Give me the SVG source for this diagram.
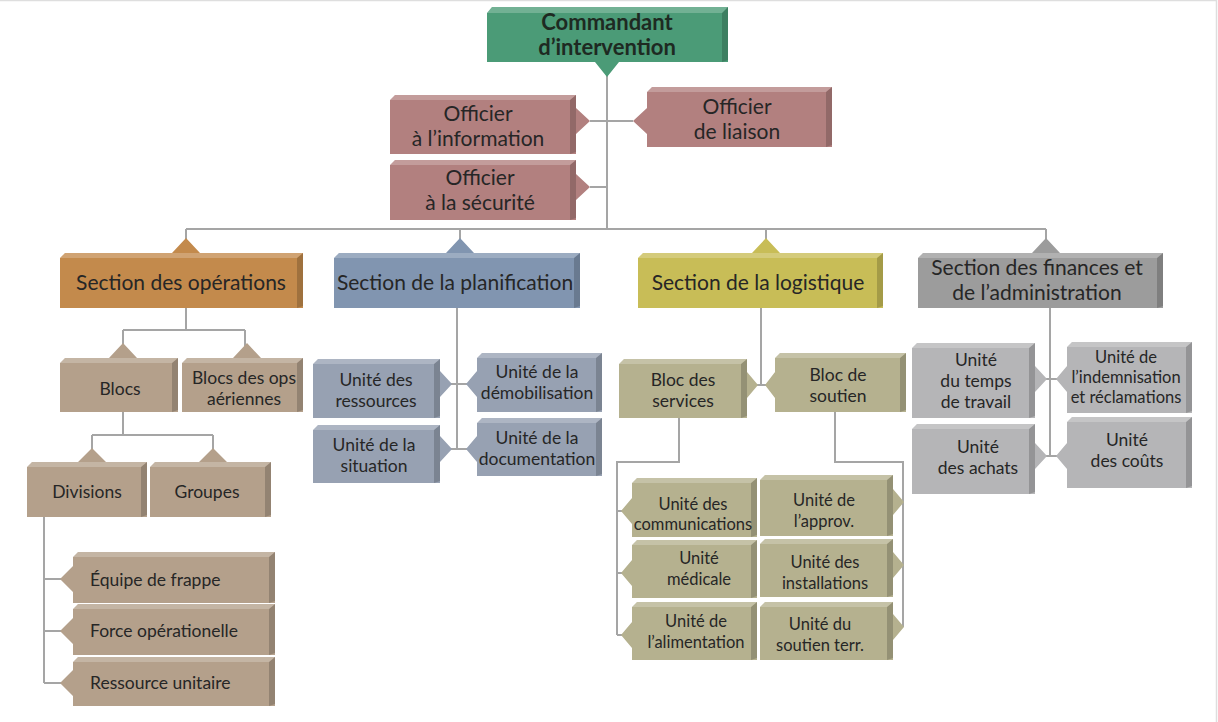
<svg xmlns="http://www.w3.org/2000/svg" width="1218" height="722" viewBox="0 0 1218 722">
<style>
text{font-family:Lato,"Open Sans","Liberation Sans",sans-serif;fill:#262626;text-anchor:middle}
.b{font-weight:bold;font-size:22px;fill:#1e2a22}
.l{font-size:21px}
.m{font-size:17.5px}
.s{font-size:16.5px}
.st{text-anchor:start}
.hl{fill:#ffffff;opacity:.22}
.sh{fill:#000000;opacity:.18}
.green{fill:#4b9b77}
.rose{fill:#b2807f}
.orange{fill:#c38a4c}
.blue{fill:#8195b0}
.yellow{fill:#c8bd57}
.gray{fill:#9c9c9c}
.taupe{fill:#b4a08b}
.bgray{fill:#97a1b2}
.olive{fill:#b5b18f}
.lgray{fill:#b5b5b7}
.conn path{fill:none;stroke:#a5a5a5;stroke-width:2}
</style>
<rect width="1218" height="722" fill="#ffffff"/>
<path d="M0,0.5 H1216.5 V722" fill="none" stroke="#dedede" stroke-width="1.5"/>

<g id="connectors" class="conn">
<path d="M607,62 V229"/>
<path d="M186,229 H1046"/>
<path d="M590,121 H633"/>
<path d="M590,187 H607"/>
<path d="M186,229 V242 M460,229 V242 M766,229 V242 M1046,229 V242"/>
<path d="M186,308 V330 M123,330 H245 M123,330 V346 M245,330 V346"/>
<path d="M123,412 V435 M92,435 H213 M92,435 V450 M213,435 V450"/>
<path d="M44,517 V683 M44,579 H62 M44,631 H62 M44,683 H62"/>
<path d="M457,308 V449 M450,384 H468 M450,449 H468"/>
<path d="M761,308 V385 M755,385 H768"/>
<path d="M679,418 V462 H617 V635 M617,511 H623 M617,573 H623 M617,635 H623"/>
<path d="M835,412 V462 H903 V627 M895,502 H903 M895,565 H903 M895,627 H903"/>
<path d="M1050,308 V456 M1045,379 H1058 M1045,456 H1058"/>
</g>

<g id="commandant">
<path class="green" d="M487,13 L492,7 H728 V62 H487 Z M595,62 L607,77 L619,62 Z"/>
<path class="sh" d="M722,13 L728,7 V60 L722,62 Z"/>
<path class="hl" d="M487,13 L492,7 H728 L722,13 Z"/>
<text class="b" x="607" y="30">Commandant</text>
<text class="b" x="607" y="55">d’intervention</text>
</g>

<g id="officier-information">
<path class="rose" d="M390,100 L395,95 H576 V154 H390 Z M576,108 L590,121 L576,134 Z"/>
<path class="sh" d="M570,100 L576,95 V152 L570,154 Z"/>
<path class="hl" d="M390,100 L395,95 H576 L570,100 Z"/>
<text class="l" x="478" y="121">Officier</text>
<text class="l" x="478" y="146">à l’information</text>
</g>

<g id="officier-liaison">
<path class="rose" d="M647,92 L652,87 H832 V147 H647 Z M647,108 L633,121 L647,134 Z"/>
<path class="sh" d="M826,92 L832,87 V145 L826,147 Z"/>
<path class="hl" d="M647,92 L652,87 H832 L826,92 Z"/>
<text class="l" x="737" y="114">Officier</text>
<text class="l" x="737" y="139">de liaison</text>
</g>

<g id="officier-securite">
<path class="rose" d="M390,165 L395,160 H576 V220 H390 Z M576,174 L590,187 L576,200 Z"/>
<path class="sh" d="M570,165 L576,160 V218 L570,220 Z"/>
<path class="hl" d="M390,165 L395,160 H576 L570,165 Z"/>
<text class="l" x="480" y="185">Officier</text>
<text class="l" x="480" y="210">à la sécurité</text>
</g>

<g id="section-operations">
<path class="orange" d="M60,258 L65,253 H303 V308 H60 Z M172,253 L186,238 L200,253 Z"/>
<path class="sh" d="M297,258 L303,253 V306 L297,308 Z"/>
<path class="hl" d="M60,258 L65,253 H303 L297,258 Z"/>
<text class="l" x="181" y="290">Section des opérations</text>
</g>

<g id="section-planification">
<path class="blue" d="M334,258 L339,253 H580 V308 H334 Z M446,253 L460,238 L474,253 Z"/>
<path class="sh" d="M574,258 L580,253 V306 L574,308 Z"/>
<path class="hl" d="M334,258 L339,253 H580 L574,258 Z"/>
<text class="l" x="455" y="290">Section de la planification</text>
</g>

<g id="section-logistique">
<path class="yellow" d="M638,258 L643,253 H883 V308 H638 Z M752,253 L766,238 L780,253 Z"/>
<path class="sh" d="M877,258 L883,253 V306 L877,308 Z"/>
<path class="hl" d="M638,258 L643,253 H883 L877,258 Z"/>
<text class="l" x="758" y="290">Section de la logistique</text>
</g>

<g id="section-finances">
<path class="gray" d="M918,258 L923,253 H1163 V308 H918 Z M1032,253 L1046,238 L1060,253 Z"/>
<path class="sh" d="M1157,258 L1163,253 V306 L1157,308 Z"/>
<path class="hl" d="M918,258 L923,253 H1163 L1157,258 Z"/>
<text class="l" x="1037" y="275">Section des finances et</text>
<text class="l" x="1037" y="300">de l’administration</text>
</g>

<g id="blocs">
<path class="taupe" d="M60,363 L65,358 H178 V412 H60 Z M109,358 L123,343 L137,358 Z"/>
<path class="sh" d="M172,363 L178,358 V410 L172,412 Z"/>
<path class="hl" d="M60,363 L65,358 H178 L172,363 Z"/>
<text class="m" x="120" y="395">Blocs</text>
</g>

<g id="blocs-ops-aeriennes">
<path class="taupe" d="M182,363 L187,358 H303 V412 H182 Z M233,358 L247,343 L261,358 Z"/>
<path class="sh" d="M297,363 L303,358 V410 L297,412 Z"/>
<path class="hl" d="M182,363 L187,358 H303 L297,363 Z"/>
<text class="m" x="244" y="384">Blocs des ops</text>
<text class="m" x="244" y="405">aériennes</text>
</g>

<g id="divisions">
<path class="taupe" d="M27,467 L32,462 H147 V517 H27 Z M78,462 L92,448 L106,462 Z"/>
<path class="sh" d="M141,467 L147,462 V515 L141,517 Z"/>
<path class="hl" d="M27,467 L32,462 H147 L141,467 Z"/>
<text class="m" x="87" y="498">Divisions</text>
</g>

<g id="groupes">
<path class="taupe" d="M150,467 L155,462 H271 V517 H150 Z M199,462 L213,448 L227,462 Z"/>
<path class="sh" d="M265,467 L271,462 V515 L265,517 Z"/>
<path class="hl" d="M150,467 L155,462 H271 L265,467 Z"/>
<text class="m" x="207" y="498">Groupes</text>
</g>

<g id="equipe-frappe">
<path class="taupe" d="M73,557 L78,552 H275 V603 H73 Z M73,566 L60,579 L73,592 Z"/>
<path class="sh" d="M269,557 L275,552 V601 L269,603 Z"/>
<path class="hl" d="M73,557 L78,552 H275 L269,557 Z"/>
<text class="m st" x="90" y="586">Équipe de frappe</text>
</g>

<g id="force-operationelle">
<path class="taupe" d="M73,609 L78,604 H275 V655 H73 Z M73,618 L60,631 L73,644 Z"/>
<path class="sh" d="M269,609 L275,604 V653 L269,655 Z"/>
<path class="hl" d="M73,609 L78,604 H275 L269,609 Z"/>
<text class="m st" x="90" y="637">Force opérationelle</text>
</g>

<g id="ressource-unitaire">
<path class="taupe" d="M73,662 L78,657 H275 V706 H73 Z M73,670 L60,683 L73,696 Z"/>
<path class="sh" d="M269,662 L275,657 V704 L269,706 Z"/>
<path class="hl" d="M73,662 L78,657 H275 L269,662 Z"/>
<text class="m st" x="90" y="689">Ressource unitaire</text>
</g>

<g id="unite-ressources">
<path class="bgray" d="M313,364 L318,359 H440 V418 H313 Z M440,371 L452,384 L440,397 Z"/>
<path class="sh" d="M434,364 L440,359 V416 L434,418 Z"/>
<path class="hl" d="M313,364 L318,359 H440 L434,364 Z"/>
<text class="m" x="376" y="386">Unité des</text>
<text class="m" x="376" y="407">ressources</text>
</g>

<g id="unite-demobilisation">
<path class="bgray" d="M477,358 L482,353 H602 V412 H477 Z M477,371 L466,384 L477,397 Z"/>
<path class="sh" d="M596,358 L602,353 V410 L596,412 Z"/>
<path class="hl" d="M477,358 L482,353 H602 L596,358 Z"/>
<text class="m" x="537" y="378">Unité de la</text>
<text class="m" x="537" y="399">démobilisation</text>
</g>

<g id="unite-situation">
<path class="bgray" d="M313,430 L318,425 H440 V483 H313 Z M440,436 L452,449 L440,462 Z"/>
<path class="sh" d="M434,430 L440,425 V481 L434,483 Z"/>
<path class="hl" d="M313,430 L318,425 H440 L434,430 Z"/>
<text class="m" x="374" y="451">Unité de la</text>
<text class="m" x="374" y="472">situation</text>
</g>

<g id="unite-documentation">
<path class="bgray" d="M477,423 L482,418 H602 V476 H477 Z M477,436 L466,449 L477,462 Z"/>
<path class="sh" d="M596,423 L602,418 V474 L596,476 Z"/>
<path class="hl" d="M477,423 L482,418 H602 L596,423 Z"/>
<text class="m" x="537" y="444">Unité de la</text>
<text class="m" x="537" y="465">documentation</text>
</g>

<g id="bloc-services">
<path class="olive" d="M619,364 L624,359 H747 V418 H619 Z M747,372 L758,385 L747,398 Z"/>
<path class="sh" d="M741,364 L747,359 V416 L741,418 Z"/>
<path class="hl" d="M619,364 L624,359 H747 L741,364 Z"/>
<text class="m" x="683" y="386">Bloc des</text>
<text class="m" x="683" y="407">services</text>
</g>

<g id="bloc-soutien">
<path class="olive" d="M775,358 L780,353 H906 V412 H775 Z M775,372 L765,385 L775,398 Z"/>
<path class="sh" d="M900,358 L906,353 V410 L900,412 Z"/>
<path class="hl" d="M775,358 L780,353 H906 L900,358 Z"/>
<text class="m" x="838" y="381">Bloc de</text>
<text class="m" x="838" y="402">soutien</text>
</g>

<g id="unite-communications">
<path class="olive" d="M632,483 L637,478 H757 V537 H632 Z M632,498 L621,511 L632,524 Z"/>
<path class="sh" d="M751,483 L757,478 V535 L751,537 Z"/>
<path class="hl" d="M632,483 L637,478 H757 L751,483 Z"/>
<text class="s" x="693" y="510">Unité des</text>
<text class="s" x="693" y="530">communications</text>
</g>

<g id="unite-medicale">
<path class="olive" d="M632,545 L637,540 H757 V598 H632 Z M632,560 L621,573 L632,586 Z"/>
<path class="sh" d="M751,545 L757,540 V596 L751,598 Z"/>
<path class="hl" d="M632,545 L637,540 H757 L751,545 Z"/>
<text class="s" x="699" y="564">Unité</text>
<text class="s" x="699" y="585">médicale</text>
</g>

<g id="unite-alimentation">
<path class="olive" d="M632,607 L637,602 H757 V660 H632 Z M632,622 L621,635 L632,648 Z"/>
<path class="sh" d="M751,607 L757,602 V658 L751,660 Z"/>
<path class="hl" d="M632,607 L637,602 H757 L751,607 Z"/>
<text class="s" x="696" y="627">Unité de</text>
<text class="s" x="696" y="648">l’alimentation</text>
</g>

<g id="unite-approv">
<path class="olive" d="M760,480 L765,475 H893 V536 H760 Z M893,489 L904,502 L893,515 Z"/>
<path class="sh" d="M887,480 L893,475 V534 L887,536 Z"/>
<path class="hl" d="M760,480 L765,475 H893 L887,480 Z"/>
<text class="s" x="824" y="506">Unité de</text>
<text class="s" x="824" y="527">l’approv.</text>
</g>

<g id="unite-installations">
<path class="olive" d="M760,544 L765,539 H893 V597 H760 Z M893,552 L904,565 L893,578 Z"/>
<path class="sh" d="M887,544 L893,539 V595 L887,597 Z"/>
<path class="hl" d="M760,544 L765,539 H893 L887,544 Z"/>
<text class="s" x="825" y="568">Unité des</text>
<text class="s" x="825" y="589">installations</text>
</g>

<g id="unite-soutien-terr">
<path class="olive" d="M760,607 L765,602 H893 V660 H760 Z M893,614 L904,627 L893,640 Z"/>
<path class="sh" d="M887,607 L893,602 V658 L887,660 Z"/>
<path class="hl" d="M760,607 L765,602 H893 L887,607 Z"/>
<text class="s" x="820" y="630">Unité du</text>
<text class="s" x="820" y="651">soutien terr.</text>
</g>

<g id="unite-temps-travail">
<path class="lgray" d="M912,348 L917,343 H1035 V418 H912 Z M1035,366 L1047,379 L1035,392 Z"/>
<path class="sh" d="M1029,348 L1035,343 V416 L1029,418 Z"/>
<path class="hl" d="M912,348 L917,343 H1035 L1029,348 Z"/>
<text class="m" x="976" y="366">Unité</text>
<text class="m" x="976" y="387">du temps</text>
<text class="m" x="976" y="408">de travail</text>
</g>

<g id="unite-indemnisation">
<path class="lgray" d="M1067,347 L1072,342 H1192 V413 H1067 Z M1067,366 L1056,379 L1067,392 Z"/>
<path class="sh" d="M1186,347 L1192,342 V411 L1186,413 Z"/>
<path class="hl" d="M1067,347 L1072,342 H1192 L1186,347 Z"/>
<text class="s" x="1126" y="363">Unité de</text>
<text class="s" x="1126" y="383">l’indemnisation</text>
<text class="s" x="1126" y="403">et réclamations</text>
</g>

<g id="unite-achats">
<path class="lgray" d="M912,429 L917,424 H1035 V494 H912 Z M1035,443 L1047,456 L1035,469 Z"/>
<path class="sh" d="M1029,429 L1035,424 V492 L1029,494 Z"/>
<path class="hl" d="M912,429 L917,424 H1035 L1029,429 Z"/>
<text class="m" x="978" y="453">Unité</text>
<text class="m" x="978" y="474">des achats</text>
</g>

<g id="unite-couts">
<path class="lgray" d="M1067,422 L1072,417 H1192 V488 H1067 Z M1067,443 L1056,456 L1067,469 Z"/>
<path class="sh" d="M1186,422 L1192,417 V486 L1186,488 Z"/>
<path class="hl" d="M1067,422 L1072,417 H1192 L1186,422 Z"/>
<text class="m" x="1127" y="446">Unité</text>
<text class="m" x="1127" y="467">des coûts</text>
</g>
</svg>
